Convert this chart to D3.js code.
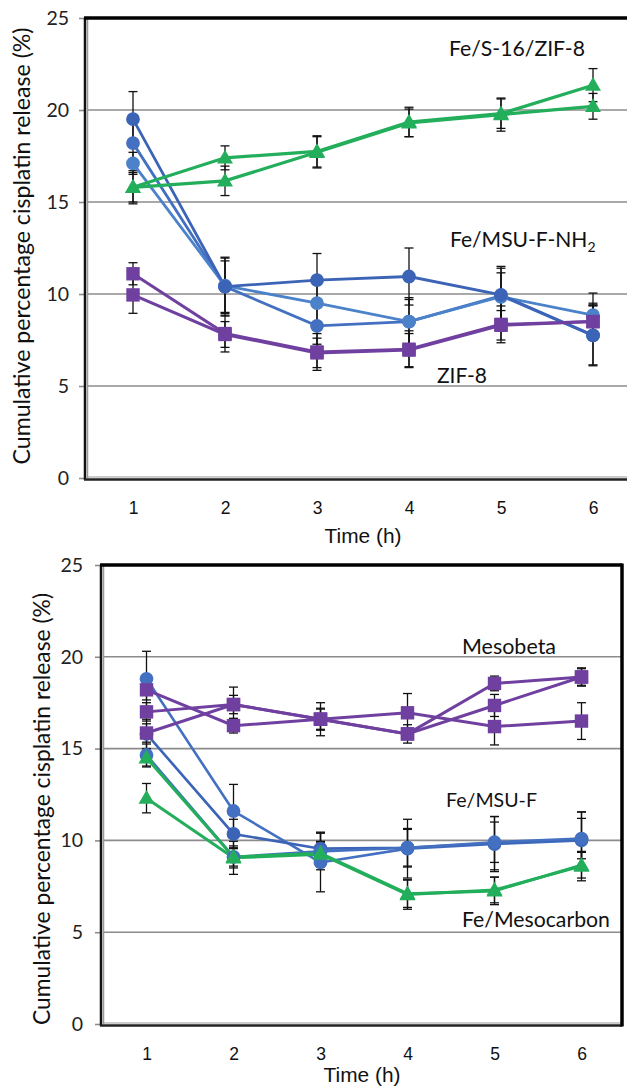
<!DOCTYPE html>
<html><head><meta charset="utf-8">
<script src="https://cdn.jsdelivr.net/npm/d3@7"></script>
<style>html,body{margin:0;padding:0;background:#fff;}svg{display:block;}</style>
</head><body>
<svg id="c" width="627" height="1086"></svg>
<script>
// ---------- data ----------
const times = [1, 2, 3, 4, 5, 6];
const yTicks = [0, 5, 10, 15, 20, 25];
const yTitle = "Cumulative percentage cisplatin release (%)";
const xTitle = "Time (h)";

// Top panel
const topGreenA = [15.8, 17.4, 17.75, 19.35, 19.8, 21.35];
const topGreenAErr = [0.8, 0.65, 0.85, 0.8, 0.8, 0.9];
const topGreenB = [15.8, 16.15, 17.7, 19.3, 19.75, 20.2];
const topGreenBErr = [0.9, 0.8, 0.85, 0.75, 0.9, 0.7];
const topBlueA = [19.5, 10.4, 10.75, 10.95, 9.95, 7.75];
const topBlueAErr = [1.5, 1.6, 1.45, 1.55, 1.55, 1.65];
const topBlueB = [18.2, 10.4, 8.27, 8.5, 9.9, 7.75];
const topBlueBErr = [1.2, 1.4, 1.0, 1.3, 1.5, 1.6];
const topBlueC = [17.1, 10.45, 9.5, 8.5, 9.85, 8.85];
const topBlueCErr = [0.6, 1.5, 1.2, 1.2, 1.3, 1.2];
const topPurpleA = [11.1, 7.85, 6.85, 7.0, 8.35, 8.5];
const topPurpleAErr = [0.6, 1.0, 1.0, 1.0, 1.0, 1.0];
const topPurpleB = [9.95, 7.8, 6.8, 6.95, 8.3, 8.5];
const topPurpleBErr = [1.0, 0.7, 0.8, 0.9, 0.8, 0.9];
const topLabels = ["Fe/S-16/ZIF-8", "Fe/MSU-F-NH", "ZIF-8"];

// Bottom panel
const botPurpleA = [18.2, 16.25, 16.6, 16.95, 16.2, 16.5];
const botPurpleAErr = [0.55, 0.4, 0.9, 1.05, 1.0, 1.0];
const botPurpleB = [17.0, 17.4, 16.6, 15.8, 18.55, 18.9];
const botPurpleBErr = [0.5, 0.95, 0.55, 0.5, 0.4, 0.5];
const botPurpleC = [15.85, 17.4, 16.6, 15.8, 17.35, 18.9];
const botPurpleCErr = [0.5, 0.5, 0.6, 0.3, 0.6, 0.45];
const botBlueA = [18.8, 11.6, 8.8, 9.55, 9.8, 10.0];
const botBlueAErr = [1.5, 1.45, 1.6, 1.6, 1.5, 1.55];
const botBlueB = [15.8, 10.35, 9.55, 9.6, 9.85, 10.05];
const botBlueBErr = [0.8, 0.8, 0.9, 1.0, 1.45, 1.5];
const botBlueC = [14.65, 9.1, 9.4, 9.6, 9.9, 10.1];
const botBlueCErr = [0.6, 0.6, 1.0, 1.05, 1.1, 1.1];
const botGreenA = [14.5, 9.1, 9.3, 7.1, 7.25, 8.65];
const botGreenAErr = [0.5, 0.5, 0.6, 0.75, 0.75, 0.7];
const botGreenB = [12.3, 9.05, 9.25, 7.05, 7.3, 8.6];
const botGreenBErr = [0.8, 0.9, 0.7, 0.8, 0.7, 0.8];
const botLabels = ["Mesobeta", "Fe/MSU-F", "Fe/Mesocarbon"];

// ---------- styles ----------
const C = {
  green: "#22AE5B", purple: "#7040A0",
  blue1: "#3B63B6", blue2: "#4470C2", blue3: "#4C82C9"
};
const svg = d3.select("#c");
const fSans = "Lato, 'Open Sans', sans-serif";
const fArial = "'Liberation Sans', Arial, sans-serif";

function fit(sel, w) {
  const fs = parseFloat(sel.attr("font-size"));
  const len = sel.node().getComputedTextLength();
  sel.attr("font-size", (fs * w / len).toFixed(2));
}

function panel(cfg) {
  const g = svg.append("g");
  const x = d3.scaleLinear().domain([0.5, 6.5]).range([cfg.left, cfg.right]);
  const y = d3.scaleLinear().domain([0, 25]).range([cfg.bottom, cfg.top]);

  // gridlines
  g.append("g").selectAll("line").data(yTicks.filter(v => v > 0 && v < 25)).join("line")
    .attr("x1", cfg.left).attr("x2", cfg.frameRight)
    .attr("y1", d => y(d)).attr("y2", d => y(d))
    .attr("stroke", "#8c8c8c").attr("stroke-width", 1.6);

  // y axis ticks
  const ya = g.append("g").attr("transform", `translate(${cfg.left - 2},0)`)
    .call(d3.axisLeft(y).tickValues(yTicks).tickSize(6).tickPadding(cfg.tickPad));
  ya.select(".domain").remove();
  ya.selectAll(".tick line").attr("stroke", "#8c8c8c").attr("stroke-width", 1.6);
  ya.selectAll(".tick text").attr("font-family", fSans).attr("font-size", 19.5).attr("fill", "#222");

  // frame
  g.append("line").attr("x1", cfg.left - 2).attr("x2", cfg.left - 2).attr("y1", cfg.top).attr("y2", cfg.bottom + 2)
    .attr("stroke", "#111").attr("stroke-width", 2.5);
  g.append("line").attr("x1", cfg.left + 0.5).attr("x2", cfg.left + 0.5).attr("y1", cfg.top).attr("y2", cfg.bottom)
    .attr("stroke", "#999").attr("stroke-width", 1.5);
  g.append("line").attr("x1", cfg.left - 3).attr("x2", cfg.frameRight).attr("y1", cfg.top).attr("y2", cfg.top)
    .attr("stroke", "#000").attr("stroke-width", 3.5);
  g.append("line").attr("x1", cfg.left - 3).attr("x2", cfg.frameRight).attr("y1", cfg.bottom + 1.5).attr("y2", cfg.bottom + 1.5)
    .attr("stroke", "#222").attr("stroke-width", 2.5);
  g.append("line").attr("x1", cfg.left).attr("x2", cfg.frameRight).attr("y1", cfg.bottom - 1).attr("y2", cfg.bottom - 1)
    .attr("stroke", "#999").attr("stroke-width", 1.2);
  if (cfg.showRight) {
    g.append("line").attr("x1", cfg.frameRight).attr("x2", cfg.frameRight).attr("y1", cfg.top - 1.5).attr("y2", cfg.bottom + 2.5)
      .attr("stroke", "#000").attr("stroke-width", 3.5);
  }

  // x axis labels
  const xa = g.append("g").attr("transform", `translate(0,${cfg.bottom})`)
    .call(d3.axisBottom(x).tickValues(times).tickSize(0).tickPadding(cfg.xPad).tickFormat(d3.format("d")));
  xa.select(".domain").remove();
  xa.selectAll(".tick text").attr("font-family", fArial).attr("font-size", 17.5).attr("fill", "#111");

  // axis titles
  const xt = g.append("text").attr("x", cfg.xTitleX).attr("y", cfg.xTitleY).attr("text-anchor", "middle")
    .attr("font-family", fArial).attr("font-size", 20).attr("fill", "#111").text(xTitle);
  fit(xt, 77);
  const yt = g.append("text").attr("transform", `translate(${cfg.yTitleX},${cfg.yTitleY}) rotate(-90)`)
    .attr("text-anchor", "middle").attr("font-family", fSans).attr("font-size", 18).attr("fill", "#111").text(yTitle);
  fit(yt, cfg.yTitleLen);

  // series
  const layerE = g.append("g"), layerL = g.append("g"), layerM = g.append("g");
  cfg.series.forEach(s => {
    const pts = times.map((t, i) => ({ t, v: s.values[i], e: s.err[i] }));
    const eb = layerE.append("g").attr("stroke", "#111").attr("stroke-width", 1.3);
    pts.forEach(p => {
      eb.append("line").attr("x1", x(p.t)).attr("x2", x(p.t)).attr("y1", y(p.v - p.e)).attr("y2", y(p.v + p.e));
      [p.v - p.e, p.v + p.e].forEach(v => eb.append("line").attr("x1", x(p.t) - 4.5).attr("x2", x(p.t) + 4.5).attr("y1", y(v)).attr("y2", y(v)));
    });
    layerL.append("path").datum(pts)
      .attr("d", d3.line().x(d => x(d.t)).y(d => y(d.v)))
      .attr("fill", "none").attr("stroke", s.color).attr("stroke-width", s.lw);
    const sym = d3.symbol().type(s.shape === "circle" ? d3.symbolCircle : s.shape === "square" ? d3.symbolSquare : d3.symbolTriangle)
      .size(s.shape === "circle" ? 150 : s.shape === "square" ? 180 : 110);
    layerM.append("g").selectAll("path").data(pts).join("path")
      .attr("transform", d => `translate(${x(d.t)},${y(d.v) + (s.shape === "triangle" ? 1 : 0)})`)
      .attr("d", sym).attr("fill", s.color);
  });

  // annotations
  cfg.labels.forEach(l => {
    const t = g.append("text").attr("x", l.x).attr("y", l.y).attr("font-family", fSans).attr("font-size", 20).attr("fill", "#111");
    t.append("tspan").text(l.text);
    if (l.sub) t.append("tspan").attr("font-size", 14).attr("dy", 5).text(l.sub);
    fit(t, l.w);
  });
}

panel({
  left: 87, right: 639, frameRight: 640, top: 18, bottom: 478, showRight: false,
  tickPad: 10, xPad: 24, xTitleX: 363, xTitleY: 543, yTitleX: 30, yTitleY: 246, yTitleLen: 437,
  series: [
    { values: topBlueB, err: topBlueBErr, color: C.blue2, shape: "circle", lw: 2.8 },
    { values: topBlueC, err: topBlueCErr, color: C.blue3, shape: "circle", lw: 2.8 },
    { values: topBlueA, err: topBlueAErr, color: C.blue1, shape: "circle", lw: 2.8 },
    { values: topPurpleA, err: topPurpleAErr, color: C.purple, shape: "square", lw: 3 },
    { values: topPurpleB, err: topPurpleBErr, color: C.purple, shape: "square", lw: 3 },
    { values: topGreenA, err: topGreenAErr, color: C.green, shape: "triangle", lw: 3.2 },
    { values: topGreenB, err: topGreenBErr, color: C.green, shape: "triangle", lw: 3.2 }
  ],
  labels: [
    { text: topLabels[0], x: 449, y: 56, w: 136 },
    { text: topLabels[1], sub: "2", x: 450, y: 247, w: 146 },
    { text: topLabels[2], x: 437, y: 383, w: 50 }
  ]
});

panel({
  left: 103, right: 625, frameRight: 622, top: 565, bottom: 1024, showRight: true,
  tickPad: 12, xPad: 24, xTitleX: 362, xTitleY: 1082, yTitleX: 50, yTitleY: 809, yTitleLen: 432,
  series: [
    { values: botBlueA, err: botBlueAErr, color: C.blue2, shape: "circle", lw: 2.6 },
    { values: botBlueB, err: botBlueBErr, color: C.blue1, shape: "circle", lw: 2.6 },
    { values: botBlueC, err: botBlueCErr, color: C.blue2, shape: "circle", lw: 2.6 },
    { values: botPurpleA, err: botPurpleAErr, color: C.purple, shape: "square", lw: 3 },
    { values: botPurpleB, err: botPurpleBErr, color: C.purple, shape: "square", lw: 3 },
    { values: botPurpleC, err: botPurpleCErr, color: C.purple, shape: "square", lw: 3 },
    { values: botGreenB, err: botGreenBErr, color: C.green, shape: "triangle", lw: 3 },
    { values: botGreenA, err: botGreenAErr, color: C.green, shape: "triangle", lw: 3 }
  ],
  labels: [
    { text: botLabels[0], x: 462, y: 654, w: 94 },
    { text: botLabels[1], x: 446, y: 807, w: 91 },
    { text: botLabels[2], x: 462, y: 927, w: 148 }
  ]
});
</script>
</body></html>
